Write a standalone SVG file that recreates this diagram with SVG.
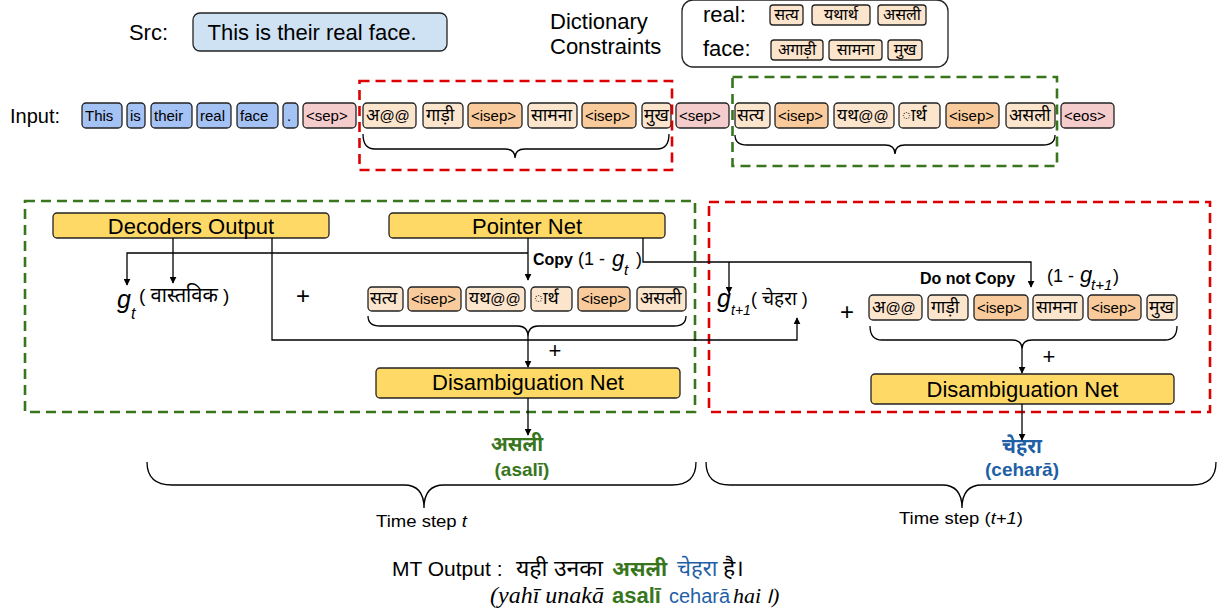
<svg xmlns="http://www.w3.org/2000/svg" width="1225" height="614" viewBox="0 0 1225 614">
<defs>
<marker id="ah" viewBox="0 0 10 10" refX="9" refY="5" markerWidth="7" markerHeight="7" orient="auto" markerUnits="userSpaceOnUse">
<path d="M0,0 L10,5 L0,10 z" fill="#000"/>
</marker>
<style>
text{font-family:"Liberation Sans","Noto Sans Devanagari","Lohit Devanagari","Noto Sans",sans-serif;fill:#000}
.tk{stroke:#222;stroke-width:1.3}
.bl{fill:#a4c2f4}.pk{fill:#f4cccc}.wd{fill:#fce5cd}.is{fill:#f9cb9c}.yl{fill:#ffd966;stroke:#222;stroke-width:1.3}
.tt{font-size:15px}
.dv{font-size:17.5px}
.dt{font-size:16px;text-anchor:middle}
.lab{font-size:22px}
.ctr{text-anchor:middle}
.conn{fill:none;stroke:#000;stroke-width:1.3}
.brace{fill:none;stroke:#000;stroke-width:1.3}
.dr{fill:none;stroke:#dd0000;stroke-width:2.6;stroke-dasharray:10 6}
.dg{fill:none;stroke:#38761d;stroke-width:2.6;stroke-dasharray:10 6}
.it{font-style:italic}
.bd{font-weight:bold}
.gr{fill:#38761d}.bu{fill:#1f5fa6}
.ser{font-family:"Liberation Serif","Noto Serif",serif;font-style:italic}
</style>
</defs>
<rect width="1225" height="614" fill="#fff"/>

<!-- Source -->
<g id="src">
<text x="168" y="40" class="lab" text-anchor="end">Src:</text>
<rect x="193" y="13" width="254" height="38" rx="7" fill="#cfe2f3" stroke="#222" stroke-width="1.3"/>
<text x="312" y="40" class="lab ctr">This is their real face.</text>
</g>

<!-- Dictionary -->
<g id="dict">
<text x="550" y="29" class="lab">Dictionary</text>
<text x="550" y="54" class="lab">Constraints</text>
<rect x="682" y="0" width="266" height="67" rx="11" fill="#fff" stroke="#222" stroke-width="1.3"/>
<text x="703" y="22" class="lab">real:</text>
<text x="703" y="56" class="lab">face:</text>
<rect class="tk wd" x="770" y="5" width="33" height="20" rx="3"/><text x="786.5" y="20" class="dt">सत्य</text>
<rect class="tk wd" x="812" y="5" width="58" height="20" rx="3"/><text x="841" y="20" class="dt">यथार्थ</text>
<rect class="tk wd" x="878" y="5" width="48" height="20" rx="3"/><text x="902" y="20" class="dt">असली</text>
<rect class="tk wd" x="771" y="40" width="52" height="20" rx="3"/><text x="797" y="55" class="dt">अगाड़ी</text>
<rect class="tk wd" x="829" y="40" width="53" height="20" rx="3"/><text x="855.5" y="55" class="dt">सामना</text>
<rect class="tk wd" x="888" y="40" width="34" height="20" rx="3"/><text x="905" y="55" class="dt">मुख</text>
</g>

<!-- Input row -->
<g id="input">
<text x="10" y="123" style="font-size:20px">Input:</text>
<rect class="tk bl" x="82" y="103" width="40" height="25" rx="4"/><text x="85" y="121" class="tt">This</text>
<rect class="tk bl" x="127" y="103" width="18" height="25" rx="4"/><text x="130" y="121" class="tt">is</text>
<rect class="tk bl" x="151" y="103" width="41" height="25" rx="4"/><text x="154" y="121" class="tt">their</text>
<rect class="tk bl" x="197" y="103" width="34" height="25" rx="4"/><text x="200" y="121" class="tt">real</text>
<rect class="tk bl" x="237" y="103" width="41" height="25" rx="4"/><text x="240" y="121" class="tt">face</text>
<rect class="tk bl" x="283" y="103" width="15" height="25" rx="4"/><text x="287" y="121" class="tt">.</text>
<rect class="tk pk" x="303" y="103" width="53" height="25" rx="4"/><text x="306" y="121" class="tt">&lt;sep&gt;</text>
<rect class="tk wd" x="363" y="103" width="53" height="25" rx="4"/><text x="366" y="121" class="tt"><tspan class="dv">अ</tspan>@@</text>
<rect class="tk wd" x="423" y="103" width="40" height="25" rx="4"/><text x="426" y="121" class="dv">गाड़ी</text>
<rect class="tk is" x="468" y="103" width="54" height="25" rx="4"/><text x="471" y="121" class="tt">&lt;isep&gt;</text>
<rect class="tk wd" x="528" y="103" width="49" height="25" rx="4"/><text x="531" y="121" class="dv">सामना</text>
<rect class="tk is" x="582" y="103" width="54" height="25" rx="4"/><text x="585" y="121" class="tt">&lt;isep&gt;</text>
<rect class="tk wd" x="642" y="103" width="29" height="25" rx="4"/><text x="644" y="121" class="dv">मुख</text>
<rect class="tk pk" x="676" y="103" width="53" height="25" rx="4"/><text x="679" y="121" class="tt">&lt;sep&gt;</text>
<rect class="tk wd" x="735" y="103" width="35" height="25" rx="4"/><text x="737" y="121" class="dv">सत्य</text>
<rect class="tk is" x="775" y="103" width="53" height="25" rx="4"/><text x="778" y="121" class="tt">&lt;isep&gt;</text>
<rect class="tk wd" x="834" y="103" width="60" height="25" rx="4"/><text x="837" y="121" class="tt"><tspan class="dv">यथ</tspan>@@</text>
<rect class="tk wd" x="899" y="103" width="41" height="25" rx="4"/><text x="902" y="121" class="dv">ार्थ</text>
<rect class="tk is" x="946" y="103" width="53" height="25" rx="4"/><text x="949" y="121" class="tt">&lt;isep&gt;</text>
<rect class="tk wd" x="1006" y="103" width="49" height="25" rx="4"/><text x="1009" y="121" class="dv">असली</text>
<rect class="tk pk" x="1061" y="103" width="53" height="25" rx="4"/><text x="1064" y="121" class="tt">&lt;eos&gt;</text>
<rect class="dr" x="359.5" y="81" width="312.5" height="89"/>
<rect class="dg" x="732.5" y="77" width="324.5" height="89"/>
</g>

<!-- Time step t box -->
<g id="step-t">
<rect class="dg" x="25" y="201" width="670" height="211"/>
<rect class="yl" x="53" y="213" width="276" height="25" rx="4"/>
<text x="191" y="234" class="lab ctr">Decoders Output</text>
<rect class="yl" x="389" y="213" width="276" height="25" rx="4"/>
<text x="527" y="234" class="lab ctr">Pointer Net</text>
<text x="117" y="308" class="it" style="font-size:25px">g</text>
<text x="131" y="319" class="it" style="font-size:16px">t</text>
<text x="139" y="302" style="font-size:19px">( <tspan style="font-size:20px">वास्तविक</tspan> )</text>
<text x="303" y="304" class="ctr" style="font-size:24px">+</text>
<text x="533" y="265" class="bd" style="font-size:16px">Copy</text>
<text x="578" y="265" style="font-size:18px">(1 - </text>
<text x="612" y="266" class="it" style="font-size:22px">g</text>
<text x="624" y="275" class="it" style="font-size:15px">t</text>
<text x="636" y="265" style="font-size:18px">)</text>
<rect class="tk wd" x="368" y="287" width="35" height="24" rx="4"/><text x="370" y="304" class="dv">सत्य</text>
<rect class="tk is" x="408" y="287" width="53" height="24" rx="4"/><text x="411" y="304" class="tt">&lt;isep&gt;</text>
<rect class="tk wd" x="466" y="287" width="59" height="24" rx="4"/><text x="469" y="304" class="tt"><tspan class="dv">यथ</tspan>@@</text>
<rect class="tk wd" x="531" y="287" width="41" height="24" rx="4"/><text x="534" y="304" class="dv">ार्थ</text>
<rect class="tk is" x="578" y="287" width="52" height="24" rx="4"/><text x="581" y="304" class="tt">&lt;isep&gt;</text>
<rect class="tk wd" x="637" y="287" width="49" height="24" rx="4"/><text x="640" y="304" class="dv">असली</text>
<text x="555" y="358" class="ctr" style="font-size:22px">+</text>
<rect class="yl" x="376" y="368" width="304" height="30" rx="4"/>
<text x="528" y="390" class="lab ctr">Disambiguation Net</text>
</g>

<!-- Time step t+1 box -->
<g id="step-t1">
<rect class="dr" x="709" y="202" width="501" height="210"/>
<text x="717" y="307" class="it" style="font-size:25px">g</text>
<text x="731" y="315" class="it" style="font-size:14px">t+1</text>
<text x="751" y="305" style="font-size:18px">( <tspan style="font-size:19px">चेहरा</tspan> )</text>
<text x="847" y="320" class="ctr" style="font-size:24px">+</text>
<text x="920" y="284" class="bd" style="font-size:16px">Do not Copy</text>
<text x="1047" y="282" style="font-size:18px">(1 - </text>
<text x="1080" y="282" class="it" style="font-size:22px">g</text>
<text x="1091" y="290" class="it" style="font-size:15px">t+1</text>
<text x="1113" y="282" style="font-size:18px">)</text>
<rect class="tk wd" x="869" y="295" width="53" height="25" rx="4"/><text x="872" y="313" class="tt"><tspan class="dv">अ</tspan>@@</text>
<rect class="tk wd" x="928" y="295" width="40" height="25" rx="4"/><text x="931" y="313" class="dv">गाड़ी</text>
<rect class="tk is" x="974" y="295" width="54" height="25" rx="4"/><text x="977" y="313" class="tt">&lt;isep&gt;</text>
<rect class="tk wd" x="1033" y="295" width="50" height="25" rx="4"/><text x="1036" y="313" class="dv">सामना</text>
<rect class="tk is" x="1088" y="295" width="53" height="25" rx="4"/><text x="1091" y="313" class="tt">&lt;isep&gt;</text>
<rect class="tk wd" x="1147" y="295" width="30" height="25" rx="4"/><text x="1149" y="313" class="dv">मुख</text>
<text x="1049" y="364" class="ctr" style="font-size:22px">+</text>
<rect class="yl" x="871" y="374" width="303" height="30" rx="4"/>
<text x="1022.5" y="397" class="lab ctr">Disambiguation Net</text>
</g>

<!-- Outputs -->
<g id="out-t">
<text x="517" y="451" class="ctr bd gr" style="font-size:20px">असली</text>
<text x="522" y="476" class="ctr bd gr" style="font-size:19px">(asalī)</text>
</g>
<g id="out-t1">
<text x="1022" y="453" class="ctr bd bu" style="font-size:20px">चेहरा</text>
<text x="1022" y="476" class="ctr bd bu" style="font-size:19px">(ceharā)</text>
</g>

<!-- Time step labels -->
<g id="timesteps">
<text x="376" y="527" style="font-size:17px" textLength="91" lengthAdjust="spacingAndGlyphs">Time step <tspan class="it">t</tspan></text>
<text x="899" y="524" style="font-size:17px" textLength="124" lengthAdjust="spacingAndGlyphs">Time step (<tspan class="it">t+1</tspan>)</text>
</g>

<!-- MT output -->
<g id="mt">
<text x="392" y="576" style="font-size:21px">MT Output : <tspan x="516" style="font-size:23px">यही उनका</tspan> <tspan x="612" class="bd gr" style="font-size:21px">असली</tspan> <tspan x="677" class="bu" style="font-size:22px">चेहरा</tspan> <tspan x="723" style="font-size:23px">है।</tspan></text>
<text x="490" y="603" style="font-size:20px"><tspan class="ser" style="font-size:24px">(yahī unakā</tspan><tspan x="612" class="bd gr" style="font-size:22px">asalī</tspan><tspan x="669" class="bu" style="font-size:20px">cehar&#257;</tspan><tspan x="733" class="ser" style="font-size:22px">hai</tspan><tspan x="764" class="ser" style="font-size:22px">।)</tspan></text>
</g>

<!-- Connectors -->
<g id="connectors">
<path class="brace" d="M363,134 Q363,149 375,149 H505 Q515,149 515,158 Q515,149 525,149 H657 Q669,149 669,134"/>
<path class="brace" d="M735,135 Q735,145 747,145 H885 Q895,145 895,154 Q895,145 905,145 H1043 Q1055,145 1055,135"/>
<path class="brace" d="M368,316 Q368,326 380,326 H518 Q528,326 528,337 Q528,326 538,326 H674 Q686,326 686,316"/>
<path class="brace" d="M870,326 Q870,340 882,340 H1012 Q1022,340 1022,349 Q1022,340 1032,340 H1165 Q1177,340 1177,326"/>
<path class="brace" d="M147,462 Q147,485 172,485 H404 Q424,485 424,508 Q424,485 444,485 H672 Q696,485 696,462"/>
<path class="brace" d="M706,462 Q706,485 730,485 H942 Q962,485 962,508 Q962,485 982,485 H1192 Q1216,485 1216,462"/>
<path class="conn" d="M173,238 V283" marker-end="url(#ah)"/>
<path class="conn" d="M528,238 V280" marker-end="url(#ah)"/>
<path class="conn" d="M528,253 H127 V285" marker-end="url(#ah)"/>
<path class="conn" d="M272,238 V340 H797 V318" marker-end="url(#ah)"/>
<path class="conn" d="M643,238 V262 H1031 V287" marker-end="url(#ah)"/>
<path class="conn" d="M729,262 V293" marker-end="url(#ah)"/>
<path class="conn" d="M528,337 V367" marker-end="url(#ah)"/>
<path class="conn" d="M528,398 V435" marker-end="url(#ah)"/>
<path class="conn" d="M1022,349 V373" marker-end="url(#ah)"/>
<path class="conn" d="M1022,404 V440" marker-end="url(#ah)"/>
</g>
</svg>
